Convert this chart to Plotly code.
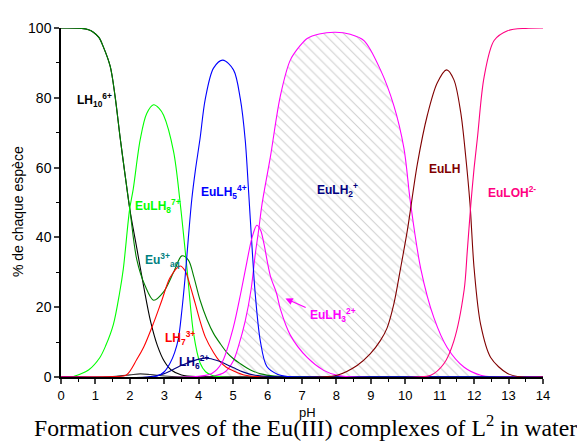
import plotly.graph_objects as go

# ---------------- data ----------------
ph_lh10 = [0, 0.6, 0.8, 0.94, 1.1, 1.23, 1.43, 1.57, 1.72, 1.86, 2.0, 2.2, 2.4, 2.6, 2.8, 3.0, 3.2, 3.5, 4.0, 4.5, 14]
pct_lh10 = [100, 99.9, 99.5, 98.8, 97.3, 94.6, 89, 80.5, 68.4, 58, 48, 37, 26, 16, 9, 4.5, 2, 0.6, 0.1, 0, 0]

ph_eu = [0, 0.6, 0.8, 0.94, 1.1, 1.23, 1.43, 1.57, 1.72, 1.86, 2.0, 2.2, 2.44, 2.69, 2.98, 3.27, 3.51, 3.7, 3.85, 4.04, 4.24, 4.43, 4.63, 4.82, 5.0, 5.21, 5.4, 5.6, 5.8, 6.2, 7.0, 14]
pct_eu = [100, 99.9, 99.5, 98.8, 97.3, 94.6, 89, 80.5, 68.4, 58, 48, 33.7, 26.2, 22, 24.4, 30, 34.7, 33.5, 29, 22, 16.5, 12.5, 9.5, 7, 5.3, 3.8, 2.6, 1.6, 0.9, 0.3, 0, 0]

ph_lh9 = [0, 1.2, 1.6, 2.0, 2.3, 2.6, 3.0, 3.4, 3.8, 14]
pct_lh9 = [0, 0, 0.2, 0.6, 0.9, 0.7, 0.3, 0.05, 0, 0]

ph_eulh8 = [0, 0.3, 0.55, 0.8, 1.13, 1.3, 1.52, 1.7, 1.81, 1.99, 2.1, 2.3, 2.49, 2.69, 2.85, 2.98, 3.27, 3.46, 3.66, 3.85, 4.04, 4.2, 4.4, 4.7, 14]
pct_eulh8 = [0, 0, 0.8, 2, 5.6, 9, 15, 24, 31, 47.8, 54, 68, 75.5, 78, 77, 75, 64.6, 50, 31, 12.5, 4, 1.5, 0.4, 0, 0]

ph_lh7 = [0, 1.5, 1.9, 2.2, 2.4, 2.69, 2.93, 3.17, 3.46, 3.6, 3.75, 3.9, 4.04, 4.19, 4.43, 4.6, 4.8, 5.0, 5.35, 6.0, 14]
pct_lh7 = [0, 0.1, 0.6, 5, 8.5, 15.5, 22, 28.5, 31.8, 30.5, 26.2, 21, 16, 11.5, 7, 4.6, 2.8, 1.8, 0.5, 0, 0]

ph_lh6 = [0, 2.5, 2.98, 3.49, 4.04, 4.3, 4.6, 5.0, 5.3, 5.64, 6.2, 7.0, 14]
pct_lh6 = [0, 0, 0.9, 3.3, 5.2, 5.3, 4.5, 2.7, 1.4, 0.5, 0.1, 0, 0]

ph_eulh5 = [0, 2.8, 3.0, 3.17, 3.3, 3.41, 3.51, 3.6, 3.7, 3.8, 3.9, 4.04, 4.19, 4.43, 4.7, 5.01, 5.21, 5.35, 5.45, 5.55, 5.64, 5.79, 5.98, 6.3, 6.6, 7.0, 14]
pct_eulh5 = [0, 0.3, 1.5, 4, 7, 11, 19, 28, 40, 51, 59, 68.4, 79.6, 88.5, 90.8, 88, 79.6, 68, 53, 37, 24, 10.3, 3, 0.7, 0.1, 0, 0]

ph_eulh3 = [0, 4.0, 4.38, 4.67, 5.0, 5.22, 5.4, 5.55, 5.69, 5.8, 5.89, 6.08, 6.26, 6.37, 6.66, 7.15, 7.63, 8.02, 8.5, 14]
pct_eulh3 = [0, 0.2, 1, 4, 14, 24, 33, 40, 43.5, 42, 38.4, 29, 24, 19.5, 12, 5.6, 1.9, 0.5, 0, 0]

ph_eulh2 = [0, 4.4, 4.77, 5.0, 5.16, 5.35, 5.52, 5.64, 5.74, 5.84, 6.08, 6.37, 6.66, 6.95, 7.15, 7.5, 7.97, 8.4, 8.8, 9.28, 9.67, 9.96, 10.15, 10.45, 10.83, 11.22, 11.71, 12.19, 12.6, 14]
pct_eulh2 = [0, 0.2, 1.5, 4.5, 9, 16, 25, 35, 42, 49.6, 63, 80.5, 90.8, 95, 97, 98.3, 98.8, 98.2, 96.4, 88, 77.7, 65.6, 50, 31, 17, 8.4, 2.8, 0.5, 0, 0]

ph_eulh = [0, 7.5, 8.02, 8.6, 8.98, 9.28, 9.47, 9.67, 9.86, 10.06, 10.35, 10.64, 10.93, 11.2, 11.41, 11.61, 11.75, 11.88, 12.0, 12.19, 12.48, 12.97, 13.4, 14]
pct_eulh = [0, 0, 0.5, 3.3, 6.6, 10.5, 14, 21, 31, 42, 61, 75, 84.3, 88, 85.2, 75.8, 63.7, 49.6, 31, 15, 5.6, 1, 0, 0]

ph_euloh = [0, 10.3, 10.74, 11.12, 11.41, 11.71, 11.8, 11.9, 12.0, 12.1, 12.29, 12.58, 12.97, 13.5, 14]
pct_euloh = [0, 0, 0.5, 3.8, 10.3, 25, 36, 49, 60, 69, 86, 96.4, 99.2, 99.9, 100]

x_ticks = list(range(0, 15))
y_ticks = [0, 20, 40, 60, 80, 100]

# ---------------- figure ----------------
fig = go.Figure()

def curve(x, y, color, **kw):
    fig.add_trace(go.Scatter(x=x, y=y, mode="lines",
                             line=dict(color=color, width=1.1, shape="spline", smoothing=0.9),
                             hoverinfo="skip", showlegend=False, **kw))

# hatched EuLH2+ area first (behind the rest)
curve(ph_eulh2, pct_eulh2, "#FF00FF", fill="tozeroy",
      fillpattern=dict(shape="\\", fgcolor="#A0A0A0", bgcolor="white", size=7, solidity=0.15))
curve(ph_lh9, pct_lh9, "#333333")
curve(ph_lh10, pct_lh10, "#000000")
curve(ph_eu, pct_eu, "#008000")
curve(ph_eulh8, pct_eulh8, "#00FF00")
curve(ph_lh7, pct_lh7, "#FF0000")
curve(ph_lh6, pct_lh6, "#000080")
curve(ph_eulh5, pct_eulh5, "#0000FF")
curve(ph_eulh3, pct_eulh3, "#FF00FF")
curve(ph_eulh, pct_eulh, "#800000")
curve(ph_euloh, pct_euloh, "#FF0080")

FONT = "Arial, Liberation Sans, sans-serif"

labels = [
    (0.41, 79.4, "LH<sub>10</sub><sup>6+</sup>", "#000000"),
    (2.10, 49.0, "EuLH<sub>8</sub><sup>7+</sup>", "#00FF00"),
    (4.02, 53.0, "EuLH<sub>5</sub><sup>4+</sup>", "#0000FF"),
    (7.39, 53.5, "EuLH<sub>2</sub><sup>+</sup>", "#000080"),
    (10.64, 59.5, "EuLH", "#800000"),
    (12.34, 52.9, "EuLOH<sup>2-</sup>", "#FF0080"),
    (2.39, 33.6, "Eu<sup>3+</sup><sub>aq</sub>", "#008080"),
    (2.95, 11.1, "LH<sub>7</sub><sup>3+</sup>", "#FF0000"),
    (3.38, 4.2, "LH<sub>6</sub><sup>2+</sup>", "#000080"),
    (7.17, 17.9, "EuLH<sub>3</sub><sup>2+</sup>", "#FF00FF"),
]
for x, y, t, c in labels:
    fig.add_annotation(x=x, y=y, xref="x", yref="y", text="<b>" + t + "</b>",
                       showarrow=False, xanchor="left", yanchor="middle",
                       font=dict(family=FONT, size=12, color=c))

# arrow pointing to EuLH3 2+ curve
fig.add_annotation(x=6.52, y=22.5, ax=7.15, ay=19.7, xref="x", yref="y",
                   axref="x", ayref="y", text="", showarrow=True,
                   arrowhead=2, arrowsize=1.2, arrowwidth=1.2, arrowcolor="#FF00FF")

# axis titles and caption
fig.add_annotation(x=0.5114, y=-0.1020, xref="paper", yref="paper", text="pH",
                   showarrow=False, xanchor="center", yanchor="middle",
                   font=dict(family=FONT, size=13, color="black"))
fig.add_annotation(x=-0.0902, y=0.474, xref="paper", yref="paper", text="% de chaque espèce",
                   showarrow=False, textangle=-90, xanchor="center", yanchor="middle",
                   font=dict(family=FONT, size=14, color="black"))
fig.add_annotation(x=0.508, y=-0.1400, xref="paper", yref="paper",
                   text="Formation curves of the Eu(III) complexes of L<sup>2</sup> in water",
                   showarrow=False, xanchor="center", yanchor="middle",
                   font=dict(family="Liberation Serif, Times New Roman, serif", size=23.7, color="black"))

# page body has an 8px margin, so the figure is 8px smaller on each axis
fig.update_layout(
    width=577, height=435,
    margin=dict(l=53, r=42, t=13, b=66),
    paper_bgcolor="white", plot_bgcolor="white",
    showlegend=False,
    xaxis=dict(range=[0, 14], tickvals=x_ticks, ticks="outside", ticklen=5, tickwidth=1.5,
               showline=True, linecolor="black", linewidth=2, showgrid=False, zeroline=False,
               tickfont=dict(family=FONT, size=13, color="black"),
               minor=dict(dtick=0.5, ticks="outside", ticklen=3, tickwidth=1.2, tickcolor="black", showgrid=False)),
    yaxis=dict(range=[0, 100], tickvals=y_ticks, ticks="outside", ticklen=5, tickwidth=1.5,
               showline=True, linecolor="black", linewidth=1.5, showgrid=False, zeroline=False,
               tickfont=dict(family=FONT, size=14, color="black"),
               minor=dict(dtick=10, ticks="outside", ticklen=3, tickwidth=1.2, tickcolor="black", showgrid=False)),
)

fig.write_html("out.html")
